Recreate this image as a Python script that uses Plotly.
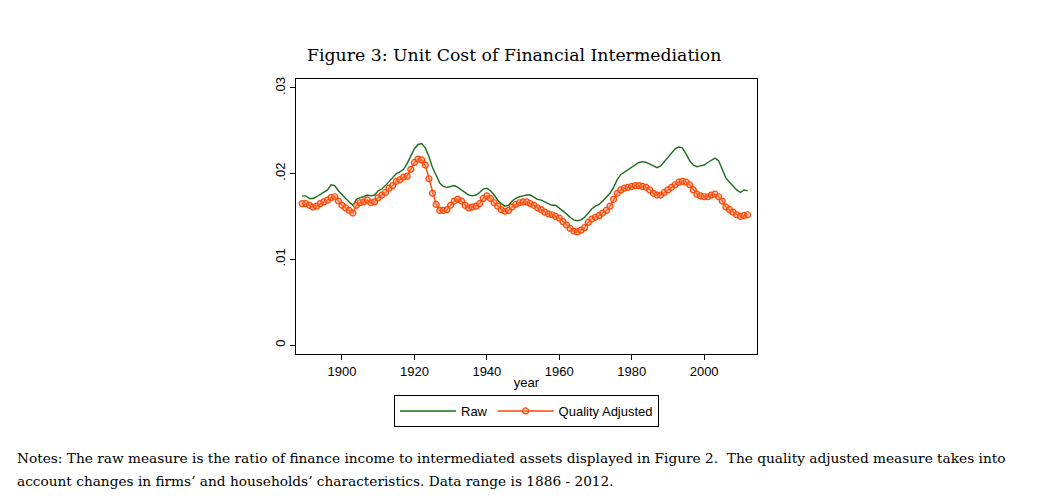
import plotly.graph_objects as go

years = list(range(1889, 2013))

raw = [
    0.0174, 0.0174, 0.0171, 0.0171, 0.0173, 0.0176, 0.0178, 0.0181, 0.0187, 0.0186,  # 1889-1898
    0.0180, 0.0175, 0.0171, 0.0167, 0.0163, 0.0170, 0.0172, 0.0173, 0.0175, 0.0174,  # 1899-1908
    0.0175, 0.0180, 0.0182, 0.0186, 0.0191, 0.0196, 0.0200, 0.0202, 0.0205, 0.0212,  # 1909-1918
    0.0220, 0.0229, 0.0234, 0.0235, 0.0230, 0.0220, 0.0207, 0.0197, 0.0189, 0.0185,  # 1919-1928
    0.0184, 0.0185, 0.0186, 0.0184, 0.0181, 0.0177, 0.0175, 0.0174, 0.0175, 0.0178,  # 1929-1938
    0.0182, 0.0183, 0.0180, 0.0175, 0.0169, 0.0165, 0.0162, 0.0163, 0.0168, 0.0171,  # 1939-1948
    0.0173, 0.0174, 0.0175, 0.0175, 0.0172, 0.0170, 0.0169, 0.0167, 0.0165, 0.0163,  # 1949-1958
    0.0163, 0.0160, 0.0157, 0.0153, 0.0149, 0.0146, 0.0145, 0.0146, 0.0149, 0.0154,  # 1959-1968
    0.0159, 0.0162, 0.0164, 0.0168, 0.0173, 0.0177, 0.0184, 0.0193, 0.0199, 0.0202,  # 1969-1978
    0.0205, 0.0208, 0.0211, 0.0213, 0.0214, 0.0213, 0.0211, 0.0209, 0.0207, 0.0209,  # 1979-1988
    0.0214, 0.0218, 0.0223, 0.0229, 0.0231, 0.0230, 0.0223, 0.0215, 0.0210, 0.0208,  # 1989-1998
    0.0209, 0.0210, 0.0213, 0.0216, 0.0218, 0.0215, 0.0204, 0.0195, 0.0190, 0.0185,  # 1999-2008
    0.0181, 0.0178, 0.0181, 0.0180,                                                  # 2009-2012
]

quality = [
    0.0165, 0.0165, 0.0163, 0.0161, 0.0162, 0.0165, 0.0167, 0.0169, 0.0172, 0.0173,  # 1889-1898
    0.0168, 0.0163, 0.0160, 0.0157, 0.0154, 0.0163, 0.0166, 0.0167, 0.0169, 0.0166,  # 1899-1908
    0.0167, 0.0172, 0.0175, 0.0178, 0.0183, 0.0186, 0.0191, 0.0193, 0.0196, 0.0197,  # 1909-1918
    0.0205, 0.0213, 0.0217, 0.0216, 0.0210, 0.0194, 0.0177, 0.0164, 0.0157, 0.0157,  # 1919-1928
    0.0158, 0.0163, 0.0168, 0.0170, 0.0168, 0.0163, 0.0160, 0.0161, 0.0162, 0.0165,  # 1929-1938
    0.0171, 0.0174, 0.0171, 0.0166, 0.0162, 0.0158, 0.0156, 0.0157, 0.0161, 0.0164,  # 1939-1948
    0.0166, 0.0167, 0.0167, 0.0165, 0.0163, 0.0160, 0.0158, 0.0155, 0.0153, 0.0152,  # 1949-1958
    0.0150, 0.0148, 0.0144, 0.0140, 0.0136, 0.0133, 0.0132, 0.0134, 0.0137, 0.0143,  # 1959-1968
    0.0147, 0.0149, 0.0151, 0.0154, 0.0157, 0.0162, 0.0170, 0.0177, 0.0181, 0.0183,  # 1969-1978
    0.0184, 0.0185, 0.0186, 0.0186, 0.0185, 0.0184, 0.0181, 0.0177, 0.0175, 0.0175,  # 1979-1988
    0.0178, 0.0181, 0.0184, 0.0187, 0.0190, 0.0191, 0.0190, 0.0187, 0.0181, 0.0176,  # 1989-1998
    0.0174, 0.0173, 0.0173, 0.0175, 0.0176, 0.0173, 0.0168, 0.0161, 0.0158, 0.0155,  # 1999-2008
    0.0152, 0.0150, 0.0151, 0.0152,                                                  # 2009-2012
]

x_ticks = [1900, 1920, 1940, 1960, 1980, 2000]
y_ticks = [0, 0.01, 0.02, 0.03]
y_tick_labels = ["0", ".01", ".02", ".03"]

title_text = "Figure 3: Unit Cost of Financial Intermediation"
notes_line1 = ("Notes: The raw measure is the ratio of finance income to intermediated assets displayed in "
               "Figure 2.  The quality adjusted measure takes into")
notes_line2 = "account changes in firms\u2019 and households\u2019 characteristics. Data range is 1886 - 2012."

fig = go.Figure()
fig.add_trace(go.Scatter(
    x=years, y=raw, mode="lines", name="Raw",
    line=dict(color="#1a6e1a", width=1.4),
))
fig.add_trace(go.Scatter(
    x=years, y=quality, mode="lines+markers", name="Quality Adjusted",
    line=dict(color="#ff4500", width=1.4),
    marker=dict(symbol="circle", size=6, color="rgba(255,140,100,0.45)",
                line=dict(color="#ff4500", width=1.2)),
))

# page body adds an 8px offset; compensate so the frame lands at the target pixels
OFF = 8
W, H = 1049, 504
L, R, T, B = 296 - OFF, 757 - OFF, 79 - OFF, 354 - OFF
pw, ph = R - L, B - T

def px_x(px):
    return (px - OFF - L) / pw

def px_y(py):
    return (B - (py - OFF)) / ph

axis_font = dict(family="Liberation Sans, Arial, sans-serif", size=13, color="black")
serif = "DejaVu Serif, Liberation Serif, serif"

fig.update_layout(
    width=W, height=H,
    margin=dict(l=L, r=W - R, t=T, b=H - B, pad=0),
    paper_bgcolor="white", plot_bgcolor="white",
    showlegend=True,
    legend=dict(
        orientation="h", x=0.5, xanchor="center", y=px_y(395), yanchor="top",
        bordercolor="black", borderwidth=1, bgcolor="white",
        font=dict(family="Liberation Sans, Arial, sans-serif", size=13, color="black"),
        itemwidth=56, tracegroupgap=0,
    ),
    xaxis=dict(
        range=[1887.3, 2014.6], tickmode="array", tickvals=x_ticks,
        ticks="outside", ticklen=5, tickcolor="black", tickwidth=1,
        showgrid=False, zeroline=False, showline=True, linecolor="black", linewidth=1.2,
        mirror=True, tickfont=axis_font,
        title=dict(text="year", font=axis_font, standoff=0),
    ),
    yaxis=dict(
        range=[-0.00105, 0.03104], tickmode="array", tickvals=y_ticks, ticktext=y_tick_labels,
        ticks="outside", ticklen=5, tickcolor="black", tickwidth=1, tickangle=-90,
        showgrid=False, zeroline=False, showline=True, linecolor="black", linewidth=1.2,
        mirror=True, tickfont=axis_font,
    ),
    annotations=[
        dict(text=title_text, xref="paper", yref="paper", x=px_x(514), y=px_y(55),
             xanchor="center", yanchor="middle", showarrow=False,
             font=dict(family=serif, size=17.3, color="black")),
        dict(text=notes_line1, xref="paper", yref="paper", x=px_x(15), y=px_y(458),
             xanchor="left", yanchor="middle", showarrow=False,
             font=dict(family=serif, size=13.7, color="black")),
        dict(text=notes_line2, xref="paper", yref="paper", x=px_x(15), y=px_y(481),
             xanchor="left", yanchor="middle", showarrow=False,
             font=dict(family=serif, size=13.7, color="black")),
    ],
)

fig.write_html("out.html")
